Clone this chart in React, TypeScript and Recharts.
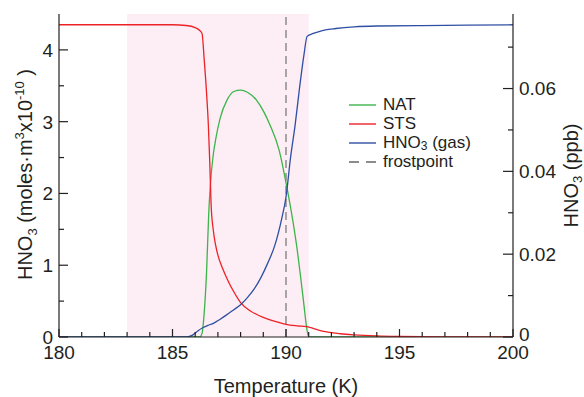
import React from "react";
import {
  ComposedChart,
  Legend,
  Line,
  ReferenceArea,
  ReferenceLine,
  XAxis,
  YAxis,
} from "recharts";

// temperature grid (K) and HNO3 condensed phase (moles·m3 x 1e-10)
const natT = [180, 186.2, 186.3, 186.4, 186.5, 186.6, 186.7, 186.8, 186.9, 187.1, 187.4, 187.7, 188.0, 188.3, 188.7, 189.0, 189.3, 189.7, 190.0, 190.3, 190.5, 190.65, 190.8, 190.9, 191.0, 200];
const natV = [0, 0, 0.05, 0.35, 0.9, 1.75, 2.25, 2.55, 2.75, 3.05, 3.3, 3.42, 3.44, 3.41, 3.3, 3.15, 2.95, 2.6, 2.15, 1.62, 1.2, 0.82, 0.42, 0.15, 0, 0];

const stsT = [180, 183, 185, 185.6, 186.0, 186.2, 186.3, 186.4, 186.5, 186.58, 186.64, 186.7, 186.8, 186.9, 187.0, 187.2, 187.45, 187.7, 188.0, 188.4, 188.8, 189.2, 189.6, 190.0, 190.5, 190.9, 191.1, 191.4, 191.8, 192.4, 193, 194, 195, 197, 200];
const stsV = [4.35, 4.35, 4.35, 4.34, 4.31, 4.27, 4.23, 3.85, 3.4, 2.95, 2.45, 1.85, 1.48, 1.28, 1.14, 0.96, 0.78, 0.63, 0.48, 0.37, 0.3, 0.25, 0.21, 0.175, 0.155, 0.145, 0.13, 0.1, 0.07, 0.045, 0.03, 0.015, 0.008, 0.003, 0];

// HNO3 gas phase (ppb), right axis
const gasT = [180, 185.5, 185.7, 185.9, 186.1, 186.35, 186.6, 186.8, 187.1, 187.4, 187.7, 188.0, 188.3, 188.6, 188.9, 189.2, 189.5, 189.8, 190.0, 190.2, 190.4, 190.6, 190.8, 190.93, 191.2, 191.6, 192.2, 193, 194, 196, 200];
const gasV = [0, 0, 0.0001, 0.0005, 0.0014, 0.0023, 0.0029, 0.0033, 0.0043, 0.0054, 0.0066, 0.0078, 0.0095, 0.0116, 0.0144, 0.0179, 0.022, 0.0283, 0.0338, 0.0433, 0.0511, 0.0603, 0.0685, 0.0726, 0.0733, 0.074, 0.0745, 0.0749, 0.0751, 0.0752, 0.0754];

const xTicks = [180, 181, 182, 183, 184, 185, 186, 187, 188, 189, 190, 191, 192, 193, 194, 195, 196, 197, 198, 199, 200];
const leftTicks = [0, 0.5, 1, 1.5, 2, 2.5, 3, 3.5, 4];
const rightTicks = [0, 0.01, 0.02, 0.03, 0.04, 0.05, 0.06, 0.07];

const legendItems = [
  { key: "nat", label: "NAT", color: "#3bb54a", dashed: false },
  { key: "sts", label: "STS", color: "#ec2227", dashed: false },
  { key: "gas", label: "HNO3 (gas)", color: "#2e4fa3", dashed: false },
  { key: "frost", label: "frostpoint", color: "#8c8c8c", dashed: true },
];

const toPoints = (ts: number[], vs: number[]) => ts.map((t, i) => ({ t, v: vs[i] }));
const natData = toPoints(natT, natV);
const stsData = toPoints(stsT, stsV);
const gasData = toPoints(gasT, gasV);

const INK = "#231f20";
const FONT = 19;

function BottomTick(props: any) {
  const { x, y, payload } = props;
  const major = payload.value % 5 === 0;
  return (
    <g>
      <line x1={x} y1={y} x2={x} y2={y - (major ? 8 : 5)} stroke={INK} strokeWidth={1.2} />
      {major && (
        <text x={x} y={y + 22} textAnchor="middle" fontSize={FONT} fill={INK}>
          {payload.value}
        </text>
      )}
    </g>
  );
}

function TopTick(props: any) {
  const { x, y, payload } = props;
  const major = payload.value % 5 === 0;
  return <line x1={x} y1={y} x2={x} y2={y + (major ? 8 : 5)} stroke={INK} strokeWidth={1.2} />;
}

function LeftTick(props: any) {
  const { x, y, payload } = props;
  const major = Number.isInteger(payload.value);
  return (
    <g>
      <line x1={x} y1={y} x2={x + (major ? 9 : 5)} y2={y} stroke={INK} strokeWidth={1.2} />
      {major && (
        <text x={x - 6} y={y} dy="0.36em" textAnchor="end" fontSize={FONT} fill={INK}>
          {payload.value}
        </text>
      )}
    </g>
  );
}

function RightTick(props: any) {
  const { x, y, payload } = props;
  const hundredths = Math.round(payload.value * 100);
  const major = hundredths % 2 === 0;
  return (
    <g>
      <line x1={x} y1={y} x2={x - (major ? 10 : 5)} y2={y} stroke={INK} strokeWidth={1.2} />
      {major && (
        <text x={x + 6} y={hundredths === 0 ? y - 3 : y} dy="0.36em" textAnchor="start" fontSize={FONT} fill={INK}>
          {hundredths === 0 ? "0" : payload.value.toFixed(2)}
        </text>
      )}
    </g>
  );
}

function LeftLabel(props: any) {
  const { viewBox } = props;
  const cx = 32;
  const cy = viewBox.y + viewBox.height / 2 - 1;
  return (
    <text x={cx} y={cy} transform={`rotate(-90 ${cx} ${cy})`} textAnchor="middle" fontSize={20} fill={INK}>
      HNO<tspan fontSize={13} dy={5}>3</tspan>
      <tspan dy={-5}> (moles·m</tspan>
      <tspan fontSize={13} dy={-8}>3</tspan>
      <tspan dy={8}>x10</tspan>
      <tspan fontSize={13} dy={-8}>-10</tspan>
      <tspan dy={8}> )</tspan>
    </text>
  );
}

function RightLabel(props: any) {
  const { viewBox } = props;
  const cx = 578;
  const cy = viewBox.y + viewBox.height / 2;
  return (
    <text x={cx} y={cy} transform={`rotate(-90 ${cx} ${cy})`} textAnchor="middle" fontSize={20} fill={INK}>
      HNO<tspan fontSize={13} dy={4}>3</tspan>
      <tspan dy={-4}> (ppb)</tspan>
    </text>
  );
}

function LegendBox() {
  return (
    <div style={{ fontSize: 17, color: INK }}>
      {legendItems.map((item) => (
        <div key={item.key} style={{ display: "flex", alignItems: "center", height: 19 }}>
          <svg width={27} height={4} style={{ marginRight: 7 }}>
            <line
              x1={0}
              y1={2}
              x2={27}
              y2={2}
              stroke={item.color}
              strokeWidth={item.dashed ? 2 : 1.4}
              strokeDasharray={item.dashed ? "10 7" : undefined}
            />
          </svg>
          <span style={{ lineHeight: "19px" }}>
            {item.key === "gas" ? (
              <>
                HNO<sub style={{ fontSize: 12, verticalAlign: "-2px", lineHeight: 0 }}>3</sub> (gas)
              </>
            ) : (
              item.label
            )}
          </span>
        </div>
      ))}
    </div>
  );
}

export default function App() {
  return (
    <div
      style={{
        position: "absolute",
        left: 0,
        top: 0,
        width: 584,
        height: 397,
        background: "#fff",
        fontFamily: "'Liberation Sans', Arial, sans-serif",
      }}
    >
      <ComposedChart width={584} height={397} margin={{ top: 14, right: 0, bottom: 0, left: 0 }}>
        <XAxis
          xAxisId="bottom"
          dataKey="t"
          type="number"
          domain={[180, 200]}
          allowDataOverflow
          ticks={xTicks}
          interval={0}
          height={60}
          tickSize={0}
          tickMargin={0}
          tickLine={false}
          tick={<BottomTick />}
          axisLine={{ stroke: INK, strokeWidth: 1.2 }}
          label={{ value: "Temperature (K)", position: "insideBottom", offset: 4, fontSize: 20, fill: INK }}
        />
        <XAxis
          xAxisId="top"
          orientation="top"
          dataKey="t"
          type="number"
          domain={[180, 200]}
          allowDataOverflow
          ticks={xTicks}
          interval={0}
          height={0}
          tickSize={0}
          tickMargin={0}
          tickLine={false}
          tick={<TopTick />}
          axisLine={{ stroke: INK, strokeWidth: 1.2 }}
        />
        <YAxis
          yAxisId="left"
          type="number"
          domain={[0, 4.5]}
          allowDataOverflow
          ticks={leftTicks}
          interval={0}
          width={59}
          tickSize={0}
          tickMargin={0}
          tickLine={false}
          tick={<LeftTick />}
          axisLine={{ stroke: INK, strokeWidth: 1.2 }}
          label={<LeftLabel />}
        />
        <YAxis
          yAxisId="right"
          orientation="right"
          type="number"
          domain={[0, 0.078]}
          allowDataOverflow
          ticks={rightTicks}
          interval={0}
          width={71}
          tickSize={0}
          tickMargin={0}
          tickLine={false}
          tick={<RightTick />}
          axisLine={{ stroke: INK, strokeWidth: 1.2 }}
          label={<RightLabel />}
        />
        <ReferenceArea
          xAxisId="bottom"
          yAxisId="left"
          x1={183}
          x2={191}
          y1={0}
          y2={4.5}
          fill="#fdedf4"
          fillOpacity={1}
          stroke="none"
        />
        <ReferenceLine
          xAxisId="bottom"
          yAxisId="left"
          x={190}
          stroke="#8c8c8c"
          strokeWidth={1.5}
          strokeDasharray="8 5"
        />
        <Line
          data={natData}
          xAxisId="bottom"
          yAxisId="left"
          dataKey="v"
          name="NAT"
          type="monotone"
          stroke="#3bb54a"
          strokeWidth={1.3}
          dot={false}
          isAnimationActive={false}
        />
        <Line
          data={stsData}
          xAxisId="bottom"
          yAxisId="left"
          dataKey="v"
          name="STS"
          type="monotone"
          stroke="#ec2227"
          strokeWidth={1.3}
          dot={false}
          isAnimationActive={false}
        />
        <Line
          data={gasData}
          xAxisId="bottom"
          yAxisId="right"
          dataKey="v"
          name="HNO3 (gas)"
          type="monotone"
          stroke="#2e4fa3"
          strokeWidth={1.3}
          dot={false}
          isAnimationActive={false}
        />
        <Legend
          layout="vertical"
          align="center"
          verticalAlign="middle"
          content={() => <LegendBox />}
          wrapperStyle={{ position: "absolute", left: 349, top: 95, width: 170 }}
        />
      </ComposedChart>
    </div>
  );
}
